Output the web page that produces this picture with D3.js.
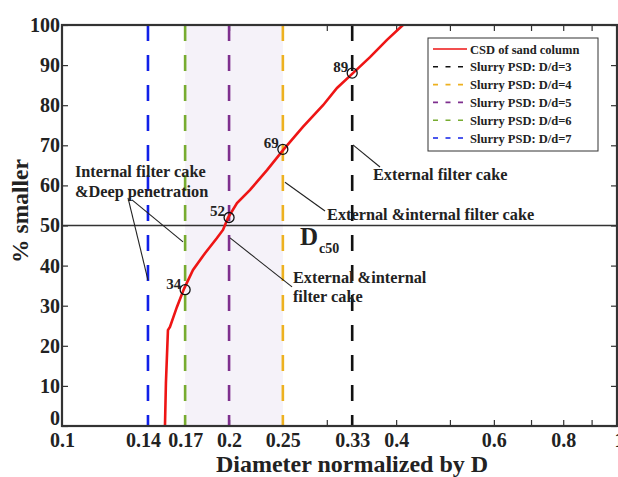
<!DOCTYPE html>
<html>
<head>
<meta charset="utf-8">
<script src="https://cdn.jsdelivr.net/npm/d3@7"></script>
<style>
  body { margin: 0; background: #fff; }
  svg { display: block; }
  text { font-family: "Liberation Serif", "Times New Roman", serif; font-weight: bold; fill: #222; }
</style>
</head>
<body>
<div id="chart"></div>
<script>
// CSD of sand column (diameter normalized by D, % smaller)
const csdX = [0.1533, 0.1539, 0.1552, 0.1565, 0.1611, 0.1659, 0.1722, 0.1810, 0.1902, 0.1950,
              0.1991, 0.2067, 0.2182, 0.2341, 0.2502, 0.2717, 0.2954, 0.3130, 0.3344, 0.3589,
              0.3851, 0.4115];
const csdY = [0, 10.7, 23.9, 24.7, 29.7, 34.2, 38.9, 43.1, 46.9, 48.9,
              51.9, 55.6, 58.9, 63.8, 68.8, 74.6, 80.0, 84.3, 88.0, 92.0,
              96.3, 100];

// slurry PSD ratios D/d
const ratios = [3, 4, 5, 6, 7];
const ratioColors = ["#111111", "#edb120", "#7e2f8e", "#77ac30", "#1020e8"];

// marked points on the curve
const markX = [1 / 6, 0.2, 0.25, 1 / 3];
const markY = [34, 52, 69, 88];
const markLabels = ["34", "52", "69", "89"];

// axis ticks
const xTickValues = [0.1, 0.14, 1 / 6, 0.2, 0.25, 1 / 3, 0.4, 0.6, 0.8, 1];
const xTickLabels = ["0.1", "0.14", "0.17", "0.2", "0.25", "0.33", "0.4", "0.6", "0.8", "1"];
const xMinorTicks = [0.2, 0.3, 0.4, 0.5, 0.6, 0.7, 0.8, 0.9];
const yTickValues = [0, 10, 20, 30, 40, 50, 60, 70, 80, 90, 100];

const legendLabels = ["CSD of sand column", "Slurry PSD: D/d=3", "Slurry PSD: D/d=4",
                      "Slurry PSD: D/d=5", "Slurry PSD: D/d=6", "Slurry PSD: D/d=7"];

// annotation leader lines, in data coordinates [x1, y1, x2, y2]
const leaders = [
  [0.1315, 56.9, 1 / 7, 36.4],
  [0.1337, 56.4, 0.1652, 45.9],
  [0.2522, 60.8, 0.2978, 53.6],
  [0.3344, 70.1, 0.3741, 64.6],
  [0.2008, 46.9, 0.2597, 34.7]
];
// annotation texts, start position in data coordinates
const notes = [
  { x: 0.1055, y: 62.1, text: "Internal filter cake" },
  { x: 0.1055, y: 57.1, text: "&Deep penetration" },
  { x: 0.3634, y: 61.3, text: "External filter cake" },
  { x: 0.3003, y: 51.4, text: "External &internal filter cake" },
  { x: 0.2607, y: 35.7, text: "External &internal" },
  { x: 0.2607, y: 30.9, text: "filter cake" }
];

let margin = { top: 25, left: 62, right: 1, bottom: 51 },
  width = 618 - margin.left - margin.right,
  height = 477 - margin.top - margin.bottom;

let svg = d3.select("#chart")
  .append("svg")
  .attr("width", 618)
  .attr("height", 477);

let g = svg.append("g")
  .attr("transform", "translate(" + margin.left + "," + margin.top + ")");

let x = d3.scaleLog().domain([0.1, 1]).range([0, width]);
let y = d3.scaleLinear().domain([0, 100]).range([height, 0]);

// shaded band between D/d=6 and D/d=4
g.append("rect")
  .attr("x", x(1 / 6))
  .attr("y", 0)
  .attr("width", x(0.25) - x(1 / 6))
  .attr("height", height)
  .attr("fill", "#f5f2f9");

// minor ticks top and bottom (inward)
g.append("g")
  .attr("transform", "translate(0," + height + ")")
  .call(d3.axisBottom(x).tickValues(xMinorTicks).tickSize(-6).tickFormat(""))
  .call(a => a.select(".domain").remove())
  .selectAll("line").attr("stroke", "#333").attr("stroke-width", 1.2);

g.append("g")
  .call(d3.axisTop(x).tickValues(xMinorTicks).tickSize(-6).tickFormat(""))
  .call(a => a.select(".domain").remove())
  .selectAll("line").attr("stroke", "#333").attr("stroke-width", 1.2);

// x labels
let xAxis = g.append("g")
  .attr("transform", "translate(0," + height + ")")
  .call(d3.axisBottom(x).tickValues(xTickValues).tickSize(0).tickPadding(7)
    .tickFormat((d, i) => xTickLabels[i]));
xAxis.select(".domain").remove();
xAxis.selectAll("text")
  .style("font-size", "20px")
  .style("font-family", "Liberation Serif")
  .attr("fill", "#222")
  .attr("dx", d => d === 1 ? 2 : 0);

// y axis
let yAxis = g.append("g")
  .call(d3.axisLeft(y).tickValues(yTickValues).tickSize(-6).tickPadding(2));
yAxis.select(".domain").remove();
yAxis.selectAll("line").attr("stroke", "#333").attr("stroke-width", 1.2);
yAxis.selectAll("text")
  .style("font-size", "20px")
  .style("font-family", "Liberation Serif")
  .attr("fill", "#222")
  .attr("dy", d => d === 0 ? "-0.1em" : "0.32em");

g.append("g")
  .attr("transform", "translate(" + width + ",0)")
  .call(d3.axisRight(y).tickValues(yTickValues).tickSize(-6).tickFormat(""))
  .call(a => a.select(".domain").remove())
  .selectAll("line").attr("stroke", "#333").attr("stroke-width", 1.2);

// slurry PSD dashed lines
g.append("g")
  .selectAll("line")
  .data(ratios)
  .enter()
  .append("line")
  .attr("x1", d => x(1 / d))
  .attr("x2", d => x(1 / d))
  .attr("y1", y(100))
  .attr("y2", y(0))
  .attr("stroke", (d, i) => ratioColors[i])
  .attr("stroke-width", 2.6)
  .attr("stroke-dasharray", "16,14");

// 50% line
g.append("line")
  .attr("x1", 0)
  .attr("x2", width)
  .attr("y1", y(50))
  .attr("y2", y(50))
  .attr("stroke", "#333")
  .attr("stroke-width", 1.3);

// CSD curve
let line = d3.line()
  .x((d, i) => x(csdX[i]))
  .y(d => y(d));

g.append("path")
  .datum(csdY)
  .attr("d", line)
  .attr("fill", "none")
  .attr("stroke", "#ee1515")
  .attr("stroke-width", 2.6);

// marked points
g.append("g")
  .selectAll("circle")
  .data(markX)
  .enter()
  .append("circle")
  .attr("cx", d => x(d))
  .attr("cy", (d, i) => y(markY[i]))
  .attr("r", 5)
  .attr("fill", "none")
  .attr("stroke", "#111")
  .attr("stroke-width", 1.3);

g.append("g")
  .selectAll("text")
  .data(markX)
  .enter()
  .append("text")
  .attr("x", d => x(d) - 4)
  .attr("y", (d, i) => y(markY[i]) - 1)
  .attr("text-anchor", "end")
  .style("font-size", "15px")
  .text((d, i) => markLabels[i]);

// annotation leaders
g.append("g")
  .selectAll("line")
  .data(leaders)
  .enter()
  .append("line")
  .attr("x1", d => x(d[0]))
  .attr("y1", d => y(d[1]))
  .attr("x2", d => x(d[2]))
  .attr("y2", d => y(d[3]))
  .attr("stroke", "#222")
  .attr("stroke-width", 1.1);

g.append("g")
  .selectAll("text")
  .data(notes)
  .enter()
  .append("text")
  .attr("x", d => x(d.x))
  .attr("y", d => y(d.y))
  .style("font-size", "16.3px")
  .text(d => d.text);

// D_c50 label
let dc = g.append("text")
  .attr("x", x(0.2684))
  .attr("y", y(45.1))
  .style("font-size", "25px");
dc.append("tspan").text("D");
dc.append("tspan")
  .attr("dy", 8)
  .attr("dx", 1)
  .style("font-size", "14px")
  .text("c50");

// frame
g.append("rect")
  .attr("x", 0)
  .attr("y", 0)
  .attr("width", width)
  .attr("height", height)
  .attr("fill", "none")
  .attr("stroke", "#333")
  .attr("stroke-width", 2.2);

// legend
let legend = g.append("g")
  .attr("transform", "translate(" + (428 - margin.left) + "," + (38 - margin.top) + ")");

legend.append("rect")
  .attr("width", 170)
  .attr("height", 113)
  .attr("fill", "#fff")
  .attr("stroke", "#333")
  .attr("stroke-width", 1);

let rows = legend.selectAll(".legendRow")
  .data(legendLabels)
  .enter()
  .append("g")
  .attr("class", "legendRow")
  .attr("transform", (d, i) => "translate(0," + (11 + i * 17.8) + ")");

rows.append("line")
  .attr("x1", 5)
  .attr("x2", 39)
  .attr("stroke", (d, i) => i === 0 ? "#ee1515" : ratioColors[i - 1])
  .attr("stroke-width", 1.6)
  .attr("stroke-dasharray", (d, i) => i === 0 ? null : "5,7.5");

rows.append("text")
  .attr("x", 42)
  .attr("y", 4.5)
  .style("font-size", "12.5px")
  .text(d => d);

// axis titles
svg.append("text")
  .attr("x", 352)
  .attr("y", 472)
  .attr("text-anchor", "middle")
  .style("font-size", "24px")
  .text("Diameter normalized by D");

svg.append("text")
  .attr("transform", "translate(28," + 211 + ") rotate(-90)")
  .attr("text-anchor", "middle")
  .style("font-size", "23.5px")
  .text("% smaller");
</script>
</body>
</html>
